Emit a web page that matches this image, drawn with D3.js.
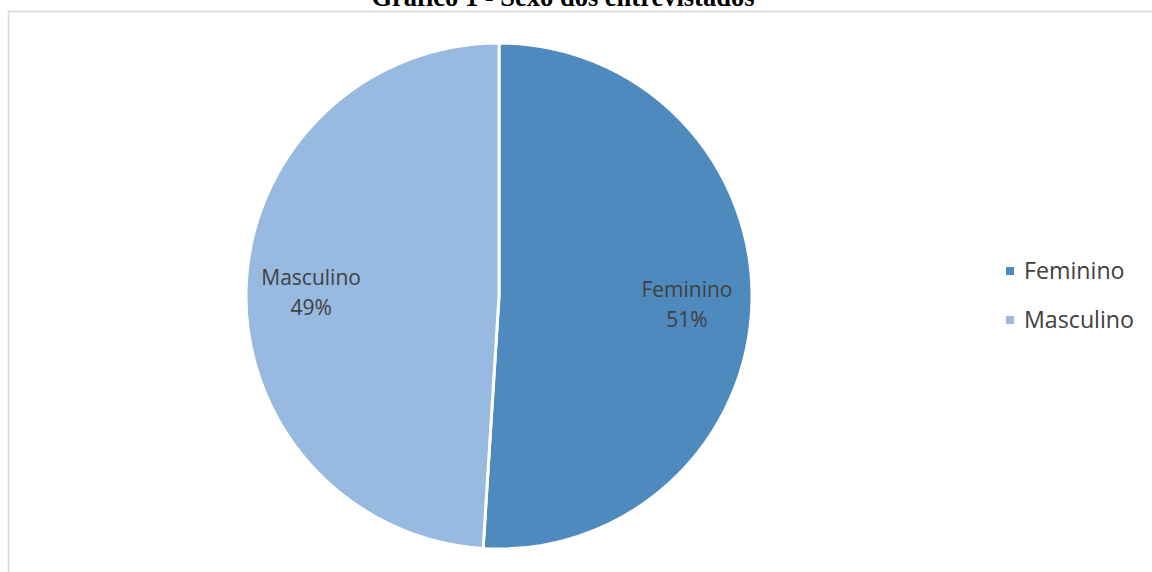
<!DOCTYPE html>
<html><head><meta charset="utf-8">
<script src="https://cdn.jsdelivr.net/npm/d3@7"></script>
<style>body{margin:0;background:#fff;}svg{display:block;}</style>
</head><body>
<svg id="c" width="1152" height="572"></svg>
<script>
const categories = ["Feminino", "Masculino"];
const values = [51, 49];
const labels = ["51%", "49%"];
const colors = ["#4f8abe", "#98b9e0"];
const title = "Gráfico 1 - Sexo dos entrevistados";

const svg = d3.select("#c");
const W = 1152, H = 572;
// frame
svg.append("path").attr("d", `M8.5,${H} L8.5,11.5 L${W},11.5`).attr("fill","none").attr("stroke","#d9d9d9").attr("stroke-width",1.5);
svg.append("text").attr("x", 563).attr("y", 6).attr("text-anchor","middle")
  .attr("font-family","'Liberation Serif', 'Times New Roman', serif").attr("font-weight","bold").attr("font-size",26.5)
  .attr("fill","#000").text(title);

const cx = 499, cy = 296, r = 253;
const pie = d3.pie().sort(null).value(d => d)(values);
const arc = d3.arc().innerRadius(0).outerRadius(r);
const labArc = d3.arc().innerRadius(188).outerRadius(188);
const g = svg.append("g").attr("transform", `translate(${cx},${cy})`);
g.selectAll("path").data(pie).join("path").attr("d", arc)
  .attr("fill", (d,i) => colors[i]).attr("stroke","#fff").attr("stroke-width",3).attr("stroke-linejoin","round");
const font = "'Open Sans', 'Noto Sans', sans-serif";
const lg = g.selectAll("text.lab").data(pie).join("text").attr("class","lab")
  .attr("transform", d => `translate(${labArc.centroid(d)})`)
  .attr("text-anchor","middle").attr("font-family",font).attr("font-size",21).attr("fill","#404040");
lg.append("tspan").attr("x",0).attr("dy","-0.25em").text((d,i)=>categories[i]);
lg.append("tspan").attr("x",0).attr("dy","1.45em").text((d,i)=>labels[i]);

const leg = svg.append("g").attr("transform","translate(1006,271)");
const y = d3.scalePoint().domain(categories).range([0,49]);
categories.forEach((c,i) => {
  leg.append("rect").attr("x",0).attr("y",y(c)-4).attr("width",8).attr("height",8).attr("fill",colors[i]);
  leg.append("text").attr("x",18).attr("y",y(c)+8).attr("font-family",font).attr("font-size",23.2).attr("fill","#404040").text(c);
});
</script>
</body></html>
